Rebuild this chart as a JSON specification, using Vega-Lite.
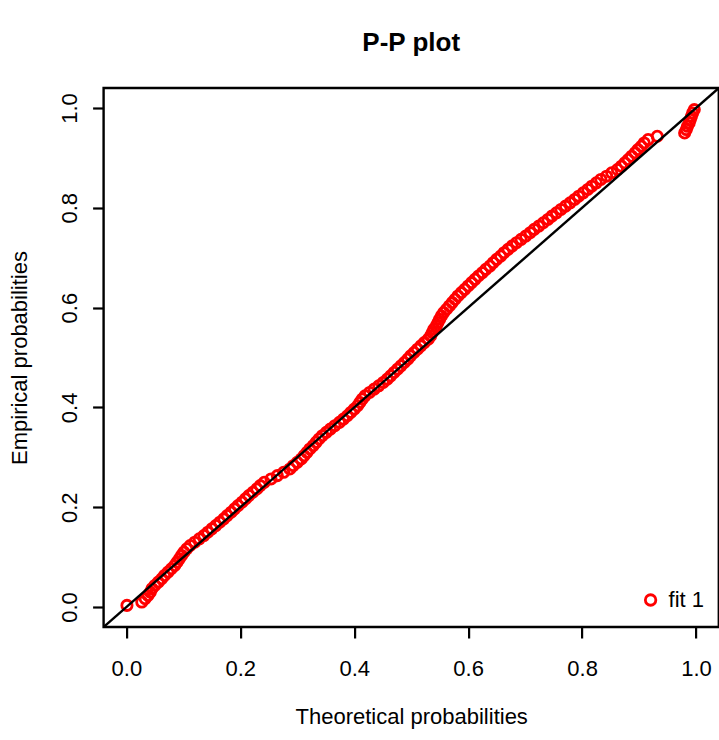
{
  "$schema": "https://vega.github.io/schema/vega-lite/v6.json",
  "autosize": {"type": "none"},
  "padding": {"left": 103.6, "top": 88, "right": 0.2, "bottom": 113},
  "width": 615.2,
  "height": 539,
  "background": "white",
  "title": {"text": "P-P plot", "font": "Liberation Sans", "fontSize": 26, "fontWeight": "bold", "color": "black", "anchor": "middle", "frame": "group", "baseline": "alphabetic", "offset": 11.5},
  "config": {
    "view": {"stroke": "black", "strokeWidth": 2.4},
    "axis": {"grid": false, "domain": false, "tickColor": "black", "tickWidth": 2.2, "tickSize": 11, "labelFont": "Liberation Sans", "labelFontSize": 22, "labelColor": "black", "titleFont": "Liberation Sans", "titleFontSize": 22, "titleFontWeight": "normal", "titleColor": "black", "labelBaseline": "alphabetic", "labelFlush": false, "labelOverlap": false}
  },
  "encoding": {
    "x": {"field": "x", "type": "quantitative", "scale": {"domain": [-0.04, 1.04], "nice": false, "zero": false}, "axis": {"title": "Theoretical probabilities", "values": [0, 0.2, 0.4, 0.6, 0.8, 1], "format": ".1f", "labelPadding": 37, "titleBaseline": "alphabetic", "titleAlign": "center", "titleAnchor": "middle", "titleY": 96.7}},
    "y": {"field": "y", "type": "quantitative", "scale": {"domain": [-0.04, 1.04], "nice": false, "zero": false}, "axis": {"title": "Empirical probabilities", "values": [0, 0.2, 0.4, 0.6, 0.8, 1], "format": ".1f", "labelAngle": -90, "labelAlign": "center", "labelBaseline": "alphabetic", "labelPadding": 16, "titleAngle": -90, "titleBaseline": "alphabetic", "titleAlign": "center", "titleX": -77.6, "titleY": 269.5}}
  },
  "layer": [
    {
      "data": {"values": [
        {"x":0.001,"y":0.0033,"s":"fit 1"},{"x":0.027,"y":0.0100,"s":"fit 1"},{"x":0.033,"y":0.0167,"s":"fit 1"},{"x":0.038,"y":0.0233,"s":"fit 1"},{"x":0.042,"y":0.0300,"s":"fit 1"},
        {"x":0.045,"y":0.0367,"s":"fit 1"},{"x":0.050,"y":0.0433,"s":"fit 1"},{"x":0.056,"y":0.0500,"s":"fit 1"},{"x":0.062,"y":0.0567,"s":"fit 1"},{"x":0.067,"y":0.0633,"s":"fit 1"},
        {"x":0.073,"y":0.0700,"s":"fit 1"},{"x":0.079,"y":0.0767,"s":"fit 1"},{"x":0.085,"y":0.0833,"s":"fit 1"},{"x":0.089,"y":0.0900,"s":"fit 1"},{"x":0.093,"y":0.0967,"s":"fit 1"},
        {"x":0.097,"y":0.1033,"s":"fit 1"},{"x":0.101,"y":0.1100,"s":"fit 1"},{"x":0.106,"y":0.1167,"s":"fit 1"},{"x":0.112,"y":0.1233,"s":"fit 1"},{"x":0.120,"y":0.1300,"s":"fit 1"},
        {"x":0.128,"y":0.1367,"s":"fit 1"},{"x":0.136,"y":0.1433,"s":"fit 1"},{"x":0.143,"y":0.1500,"s":"fit 1"},{"x":0.150,"y":0.1567,"s":"fit 1"},{"x":0.157,"y":0.1633,"s":"fit 1"},
        {"x":0.164,"y":0.1700,"s":"fit 1"},{"x":0.171,"y":0.1767,"s":"fit 1"},{"x":0.177,"y":0.1833,"s":"fit 1"},{"x":0.184,"y":0.1900,"s":"fit 1"},{"x":0.190,"y":0.1967,"s":"fit 1"},
        {"x":0.196,"y":0.2033,"s":"fit 1"},{"x":0.203,"y":0.2100,"s":"fit 1"},{"x":0.209,"y":0.2167,"s":"fit 1"},{"x":0.215,"y":0.2233,"s":"fit 1"},{"x":0.222,"y":0.2300,"s":"fit 1"},
        {"x":0.229,"y":0.2367,"s":"fit 1"},{"x":0.235,"y":0.2433,"s":"fit 1"},{"x":0.242,"y":0.2500,"s":"fit 1"},{"x":0.254,"y":0.2567,"s":"fit 1"},{"x":0.265,"y":0.2633,"s":"fit 1"},
        {"x":0.276,"y":0.2700,"s":"fit 1"},{"x":0.287,"y":0.2767,"s":"fit 1"},{"x":0.293,"y":0.2833,"s":"fit 1"},{"x":0.300,"y":0.2900,"s":"fit 1"},{"x":0.307,"y":0.2967,"s":"fit 1"},
        {"x":0.312,"y":0.3033,"s":"fit 1"},{"x":0.317,"y":0.3100,"s":"fit 1"},{"x":0.322,"y":0.3167,"s":"fit 1"},{"x":0.328,"y":0.3233,"s":"fit 1"},{"x":0.333,"y":0.3300,"s":"fit 1"},
        {"x":0.338,"y":0.3367,"s":"fit 1"},{"x":0.344,"y":0.3433,"s":"fit 1"},{"x":0.351,"y":0.3500,"s":"fit 1"},{"x":0.358,"y":0.3567,"s":"fit 1"},{"x":0.366,"y":0.3633,"s":"fit 1"},
        {"x":0.374,"y":0.3700,"s":"fit 1"},{"x":0.381,"y":0.3767,"s":"fit 1"},{"x":0.388,"y":0.3833,"s":"fit 1"},{"x":0.394,"y":0.3900,"s":"fit 1"},{"x":0.400,"y":0.3967,"s":"fit 1"},
        {"x":0.406,"y":0.4033,"s":"fit 1"},{"x":0.410,"y":0.4100,"s":"fit 1"},{"x":0.414,"y":0.4167,"s":"fit 1"},{"x":0.419,"y":0.4233,"s":"fit 1"},{"x":0.427,"y":0.4300,"s":"fit 1"},
        {"x":0.435,"y":0.4367,"s":"fit 1"},{"x":0.443,"y":0.4433,"s":"fit 1"},{"x":0.451,"y":0.4500,"s":"fit 1"},{"x":0.458,"y":0.4567,"s":"fit 1"},{"x":0.464,"y":0.4633,"s":"fit 1"},
        {"x":0.470,"y":0.4700,"s":"fit 1"},{"x":0.476,"y":0.4767,"s":"fit 1"},{"x":0.482,"y":0.4833,"s":"fit 1"},{"x":0.488,"y":0.4900,"s":"fit 1"},{"x":0.494,"y":0.4967,"s":"fit 1"},
        {"x":0.499,"y":0.5033,"s":"fit 1"},{"x":0.505,"y":0.5100,"s":"fit 1"},{"x":0.511,"y":0.5167,"s":"fit 1"},{"x":0.517,"y":0.5233,"s":"fit 1"},{"x":0.523,"y":0.5300,"s":"fit 1"},
        {"x":0.530,"y":0.5367,"s":"fit 1"},{"x":0.534,"y":0.5433,"s":"fit 1"},{"x":0.537,"y":0.5500,"s":"fit 1"},{"x":0.540,"y":0.5567,"s":"fit 1"},{"x":0.544,"y":0.5633,"s":"fit 1"},
        {"x":0.547,"y":0.5700,"s":"fit 1"},{"x":0.550,"y":0.5767,"s":"fit 1"},{"x":0.553,"y":0.5833,"s":"fit 1"},{"x":0.557,"y":0.5900,"s":"fit 1"},{"x":0.562,"y":0.5967,"s":"fit 1"},
        {"x":0.567,"y":0.6033,"s":"fit 1"},{"x":0.572,"y":0.6100,"s":"fit 1"},{"x":0.577,"y":0.6167,"s":"fit 1"},{"x":0.582,"y":0.6233,"s":"fit 1"},{"x":0.588,"y":0.6300,"s":"fit 1"},
        {"x":0.594,"y":0.6367,"s":"fit 1"},{"x":0.600,"y":0.6433,"s":"fit 1"},{"x":0.606,"y":0.6500,"s":"fit 1"},{"x":0.612,"y":0.6567,"s":"fit 1"},{"x":0.618,"y":0.6633,"s":"fit 1"},
        {"x":0.625,"y":0.6700,"s":"fit 1"},{"x":0.631,"y":0.6767,"s":"fit 1"},{"x":0.638,"y":0.6833,"s":"fit 1"},{"x":0.644,"y":0.6900,"s":"fit 1"},{"x":0.650,"y":0.6967,"s":"fit 1"},
        {"x":0.657,"y":0.7033,"s":"fit 1"},{"x":0.663,"y":0.7100,"s":"fit 1"},{"x":0.670,"y":0.7167,"s":"fit 1"},{"x":0.677,"y":0.7233,"s":"fit 1"},{"x":0.685,"y":0.7300,"s":"fit 1"},
        {"x":0.693,"y":0.7367,"s":"fit 1"},{"x":0.701,"y":0.7433,"s":"fit 1"},{"x":0.709,"y":0.7500,"s":"fit 1"},{"x":0.716,"y":0.7567,"s":"fit 1"},{"x":0.724,"y":0.7633,"s":"fit 1"},
        {"x":0.732,"y":0.7700,"s":"fit 1"},{"x":0.740,"y":0.7767,"s":"fit 1"},{"x":0.747,"y":0.7833,"s":"fit 1"},{"x":0.755,"y":0.7900,"s":"fit 1"},{"x":0.763,"y":0.7967,"s":"fit 1"},
        {"x":0.771,"y":0.8033,"s":"fit 1"},{"x":0.779,"y":0.8100,"s":"fit 1"},{"x":0.787,"y":0.8167,"s":"fit 1"},{"x":0.794,"y":0.8233,"s":"fit 1"},{"x":0.802,"y":0.8300,"s":"fit 1"},
        {"x":0.810,"y":0.8367,"s":"fit 1"},{"x":0.817,"y":0.8433,"s":"fit 1"},{"x":0.825,"y":0.8500,"s":"fit 1"},{"x":0.833,"y":0.8567,"s":"fit 1"},{"x":0.843,"y":0.8633,"s":"fit 1"},
        {"x":0.852,"y":0.8700,"s":"fit 1"},{"x":0.862,"y":0.8767,"s":"fit 1"},{"x":0.869,"y":0.8833,"s":"fit 1"},{"x":0.875,"y":0.8900,"s":"fit 1"},{"x":0.881,"y":0.8967,"s":"fit 1"},
        {"x":0.887,"y":0.9033,"s":"fit 1"},{"x":0.893,"y":0.9100,"s":"fit 1"},{"x":0.898,"y":0.9167,"s":"fit 1"},{"x":0.904,"y":0.9233,"s":"fit 1"},{"x":0.909,"y":0.9300,"s":"fit 1"},
        {"x":0.916,"y":0.9367,"s":"fit 1"},{"x":0.932,"y":0.9433,"s":"fit 1"},{"x":0.980,"y":0.9500,"s":"fit 1"},{"x":0.983,"y":0.9567,"s":"fit 1"},{"x":0.985,"y":0.9633,"s":"fit 1"},
        {"x":0.988,"y":0.9700,"s":"fit 1"},{"x":0.990,"y":0.9767,"s":"fit 1"},{"x":0.992,"y":0.9833,"s":"fit 1"},{"x":0.994,"y":0.9900,"s":"fit 1"},{"x":0.997,"y":0.9967,"s":"fit 1"}
      ]},
      "mark": {"type": "point", "shape": "circle", "filled": false, "strokeWidth": 2.8, "size": 105, "opacity": 1},
      "encoding": {
        "color": {"field": "s", "type": "nominal", "scale": {"domain": ["fit 1"], "range": ["#FF0000"]},
          "legend": {"title": null, "orient": "none", "legendX": 536, "legendY": 501, "padding": 0, "symbolType": "circle", "symbolSize": 110, "symbolStrokeWidth": 2.8, "symbolFillColor": "transparent", "symbolStrokeColor": "#FF0000", "labelFont": "Liberation Sans", "labelFontSize": 22, "labelColor": "black", "labelOffset": 7, "labelBaseline": "middle"}}
      }
    },
    {
      "data": {"values": [{"x": -0.04, "y": -0.04}, {"x": 1.04, "y": 1.04}]},
      "mark": {"type": "line", "color": "black", "strokeWidth": 2.4, "clip": true},
      "encoding": {}
    }
  ]
}
